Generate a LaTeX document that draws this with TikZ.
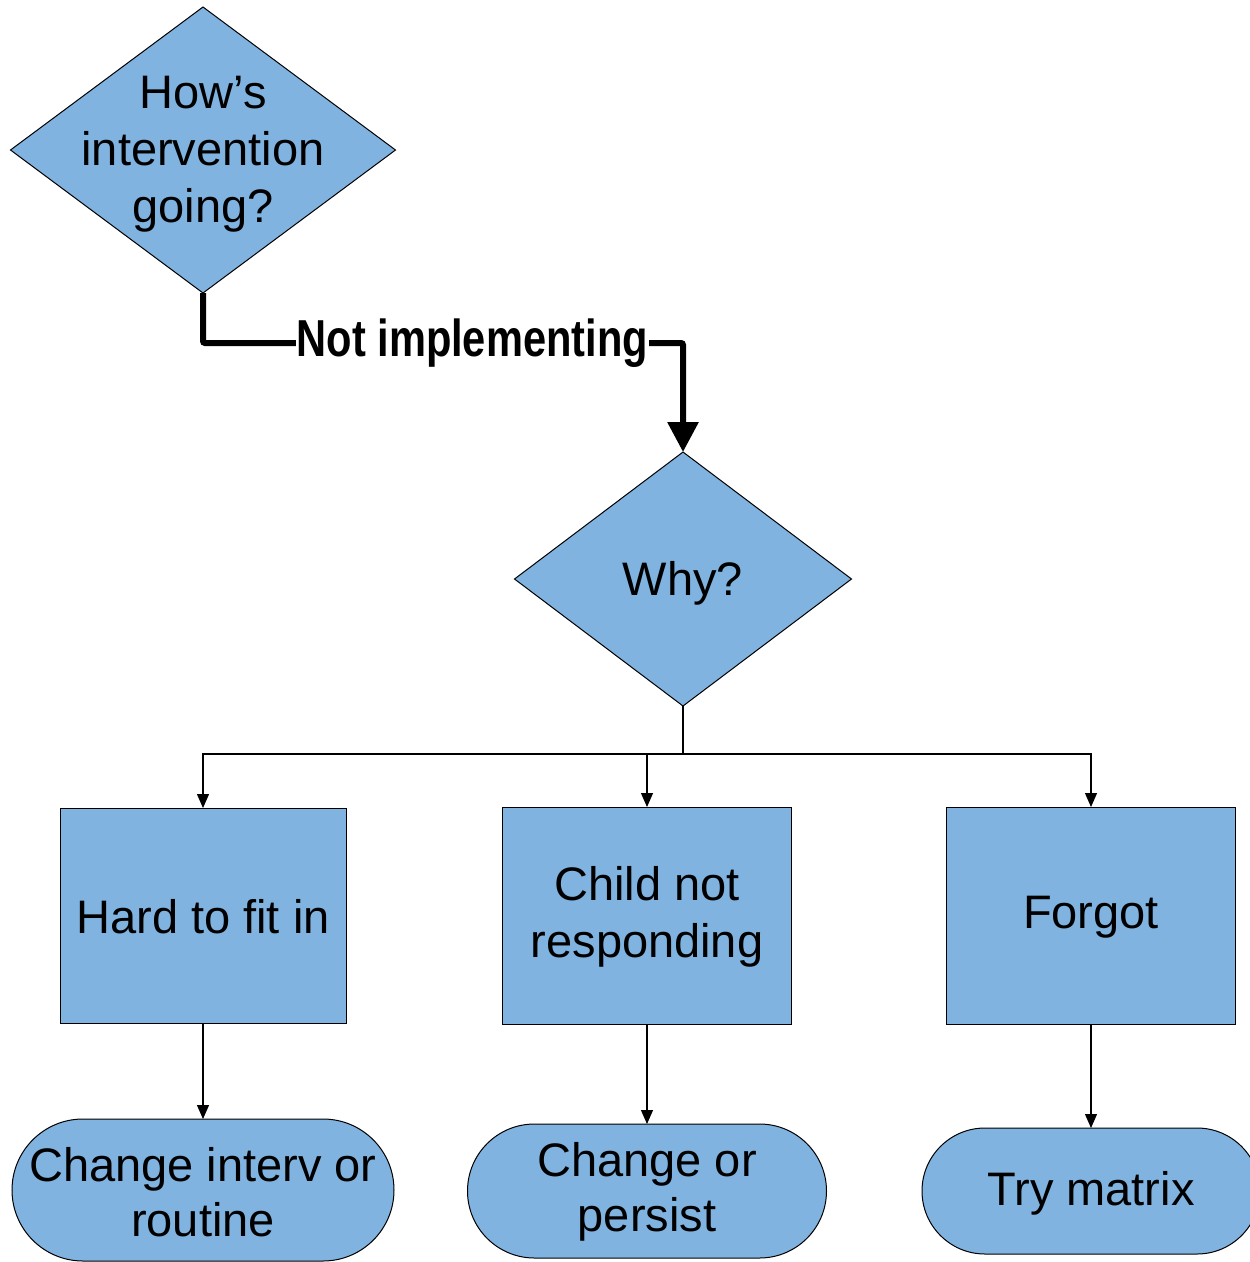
\documentclass[tikz,border=0pt]{standalone}
\usepackage{fontspec}
\setmainfont{Liberation Sans}
\usetikzlibrary{shapes.geometric,shapes.misc,arrows.meta}
\definecolor{boxblue}{RGB}{128,179,224}
\tikzset{
  shapebase/.style={draw=black, line width=1pt, fill=boxblue, inner sep=0pt, outer sep=0pt},
  decision/.style={shapebase, diamond},
  stepbox/.style={shapebase, rectangle},
  terminal/.style={shapebase, rounded rectangle},
  lbl/.style={align=center, font=\fontsize{47}{57}\selectfont, inner sep=0pt},
  flow/.style={line width=1.2pt, -{Triangle[width=12pt,length=14pt]}},
  mainflow/.style={line width=6pt, rounded corners=2pt, -{Triangle[width=30pt,length=30pt]}}
}
\begin{document}
\begin{tikzpicture}[x=1pt,y=-1pt]
\clip (0,0) rectangle (1250,1262);
\fill[white] (0,0) rectangle (1250,1262);

% decisions
\node[decision, minimum width=385pt, minimum height=286pt] (q1) at (203,150) {};
\node[lbl] (q1t) at (203,154) {How’s\\intervention\\going?};
\node[decision, minimum width=337pt, minimum height=254pt] (why) at (683,579) {};
\node[lbl] (whyt) at (683,583) {Why?};

% reasons
\node[stepbox, minimum width=286pt, minimum height=215pt] (b1) at (203,915.5) {};
\node[lbl] (b1t) at (203,917) {Hard to fit in};
\node[stepbox, minimum width=289pt, minimum height=217pt] (b2) at (647,915.5) {};
\node[lbl] (b2t) at (647,917) {Child not\\responding};
\node[stepbox, minimum width=289pt, minimum height=217pt] (b3) at (1091,915.5) {};
\node[lbl] (b3t) at (1091,917) {Forgot};

% actions
\node[terminal, minimum width=382pt, minimum height=142pt] (t1) at (203,1190) {};
\node[lbl, font=\fontsize{47}{55}\selectfont] (t1t) at (203,1192) {Change interv or\\routine};
\node[terminal, minimum width=359pt, minimum height=134pt] (t2) at (647,1191) {};
\node[lbl, font=\fontsize{47}{55}\selectfont] (t2t) at (647,1192) {Change or\\persist};
\node[terminal, minimum width=338pt, minimum height=126pt] (t3) at (1091,1191) {};
\node[lbl] (t3t) at (1091,1193) {Try matrix};

% main branch
\coordinate (k1) at (203,343);
\coordinate (k2) at (683,343);
\draw[mainflow] (q1.south) -- (k1) -- (k2) -- (why.north);
\path (k1) -- node[pos=0.561, fill=white, inner sep=1pt,
  font=\fontsize{52}{60}\selectfont\bfseries] (nl) {\scalebox{0.8}[1]{Not implementing}} (k2);

% fan-out to reasons
\coordinate (j) at (683,754);
\draw[line width=1.2pt] (why.south) -- (j);
\draw[flow] (j) -| (b1.north);
\draw[flow] (j) -| (b2.north);
\draw[flow] (j) -| (b3.north);

% reasons to actions
\draw[flow] (b1.south) -- (t1.north);
\draw[flow] (b2.south) -- (t2.north);
\draw[flow] (b3.south) -- (t3.north);
\end{tikzpicture}
\end{document}
